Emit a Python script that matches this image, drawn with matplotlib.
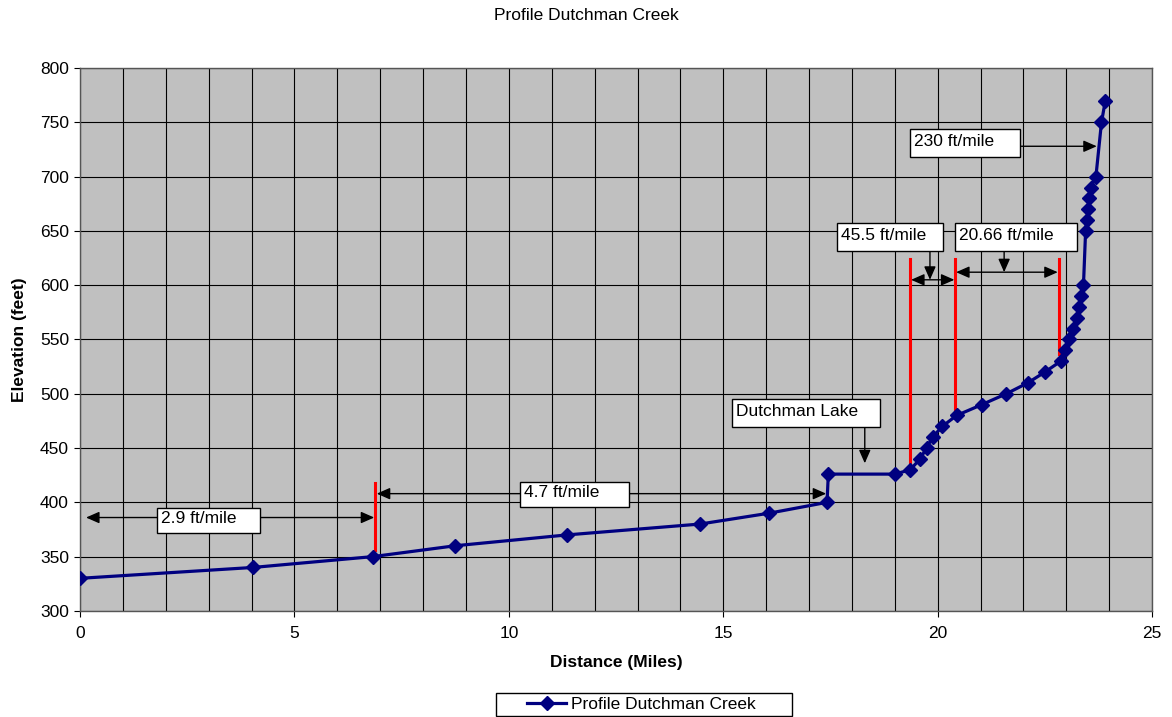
import matplotlib
matplotlib.use("Agg")
import matplotlib.pyplot as plt
from matplotlib.ticker import MultipleLocator
from matplotlib.patches import Rectangle

plt.rcParams['font.family'] = ['Liberation Sans', 'DejaVu Sans']

distance = [0, 4.03, 6.83, 8.75, 11.36, 14.46, 16.07, 17.42, 17.45, 19.0,
            19.36, 19.59, 19.74, 19.88, 20.11, 20.44, 21.03, 21.60, 22.10, 22.50,
            22.87, 22.98, 23.06, 23.15, 23.24, 23.30, 23.35, 23.40, 23.45, 23.48,
            23.51, 23.54, 23.57, 23.69, 23.82, 23.91]
elevation = [330, 340, 350, 360, 370, 380, 390, 400, 426, 426,
             430, 440, 450, 460, 470, 480, 490, 500, 510, 520,
             530, 540, 550, 560, 570, 580, 590, 600, 650, 660,
             670, 680, 690, 700, 750, 770]

series_name = "Profile Dutchman Creek"
title = "Profile Dutchman Creek"
x_label = "Distance (Miles)"
y_label = "Elevation (feet)"

annotation_texts = ["2.9 ft/mile", "4.7 ft/mile", "Dutchman Lake",
                    "45.5 ft/mile", "20.66 ft/mile", "230 ft/mile"]

fig = plt.figure(figsize=(11.72, 7.17), dpi=100)
ax = fig.add_axes([0.0683, 0.148, 0.9147, 0.757])
ax.set_facecolor('#C0C0C0')
ax.set_xlim(0, 25)
ax.set_ylim(300, 800)
ax.xaxis.set_major_locator(MultipleLocator(5))
ax.xaxis.set_minor_locator(MultipleLocator(1))
ax.yaxis.set_major_locator(MultipleLocator(50))
ax.grid(True, which='both', color='black', linewidth=0.8)
ax.set_axisbelow(True)
ax.tick_params(axis='both', labelsize=12.5, length=4, direction='out', width=0.8, colors='black')
ax.tick_params(axis='x', pad=7)
ax.tick_params(axis='y', pad=4)
ax.tick_params(axis='x', which='minor', length=0)
for s in ax.spines.values():
    s.set_color('#555555')
    s.set_linewidth(1.0)

line, = ax.plot(distance, elevation, color='#000080', linewidth=2.3, marker='D',
                markersize=7.5, label=series_name, zorder=5)

# red marker lines
for x, y0, y1 in [(6.88, 356, 418), (19.36, 432, 624), (20.41, 483, 624), (22.82, 537, 624)]:
    ax.plot([x, x], [y0, y1], color='red', linewidth=2.2, zorder=4)

head = '-|>,head_length=0.5,head_width=0.22'
dhead = '<|-|>,head_length=0.5,head_width=0.22'
arrow_kw = dict(arrowstyle=dhead, color='black', lw=1.0, mutation_scale=16, shrinkA=0, shrinkB=0)
single_kw = dict(arrowstyle=head, color='black', lw=1.0, mutation_scale=16, shrinkA=0, shrinkB=0)


def label_box(x0, x1, y0, y1, txt):
    ax.add_patch(Rectangle((x0, y0), x1 - x0, y1 - y0, facecolor='white',
                           edgecolor='black', linewidth=1.0, zorder=6))
    ax.text(x0 + 0.09, (y0 + y1) / 2 + 1.5, txt, fontsize=12.5, va='center', ha='left', zorder=7)


# 2.9 ft/mile
ax.annotate('', xy=(0.14, 386), xytext=(6.86, 386), arrowprops=arrow_kw, zorder=3)
label_box(1.80, 4.20, 371.8, 394.8, annotation_texts[0])
# 4.7 ft/mile
ax.annotate('', xy=(6.92, 408), xytext=(17.40, 408), arrowprops=arrow_kw, zorder=3)
label_box(10.26, 12.80, 395.8, 418.8, annotation_texts[1])
# Dutchman Lake
ax.annotate('', xy=(18.3, 436), xytext=(18.3, 469.4), arrowprops=single_kw, zorder=3)
label_box(15.21, 18.66, 469.4, 495.2, annotation_texts[2])
# 45.5 ft/mile
ax.annotate('', xy=(19.38, 605), xytext=(20.39, 605), arrowprops=arrow_kw, zorder=3)
ax.annotate('', xy=(19.82, 605), xytext=(19.82, 631.5), arrowprops=single_kw, zorder=3)
label_box(17.65, 20.13, 631.5, 657.3, annotation_texts[3])
# 20.66 ft/mile
ax.annotate('', xy=(20.43, 612), xytext=(22.80, 612), arrowprops=arrow_kw, zorder=3)
ax.annotate('', xy=(21.55, 612), xytext=(21.55, 631.5), arrowprops=single_kw, zorder=3)
label_box(20.41, 23.25, 631.5, 657.3, annotation_texts[4])
# 230 ft/mile
ax.annotate('', xy=(23.71, 728), xytext=(21.92, 728), arrowprops=single_kw, zorder=3)
label_box(19.36, 21.92, 718, 743.8, annotation_texts[5])

ax.set_xlabel(x_label, fontsize=12.5, fontweight='bold', labelpad=10)
ax.set_ylabel(y_label, fontsize=12.5, fontweight='bold', labelpad=9)
fig.text(0.5, 1 - 15 / 717, title, ha='center', va='center', fontsize=12.5)

# legend frame
fig.patches.append(Rectangle((496 / 1172, 1 - 716 / 717), 296 / 1172, 23 / 717,
                             transform=fig.transFigure, facecolor='white',
                             edgecolor='black', linewidth=1.0, zorder=1))
leg = fig.legend(handles=[line], labels=[series_name], loc='center left',
                 bbox_to_anchor=(527 / 1172, 1 - 704 / 717),
                 fontsize=12.5, frameon=False, handlelength=2.25, handletextpad=0.3,
                 borderpad=0, borderaxespad=0)
leg.set_zorder(5)

fig.savefig('out.png', dpi=100)
